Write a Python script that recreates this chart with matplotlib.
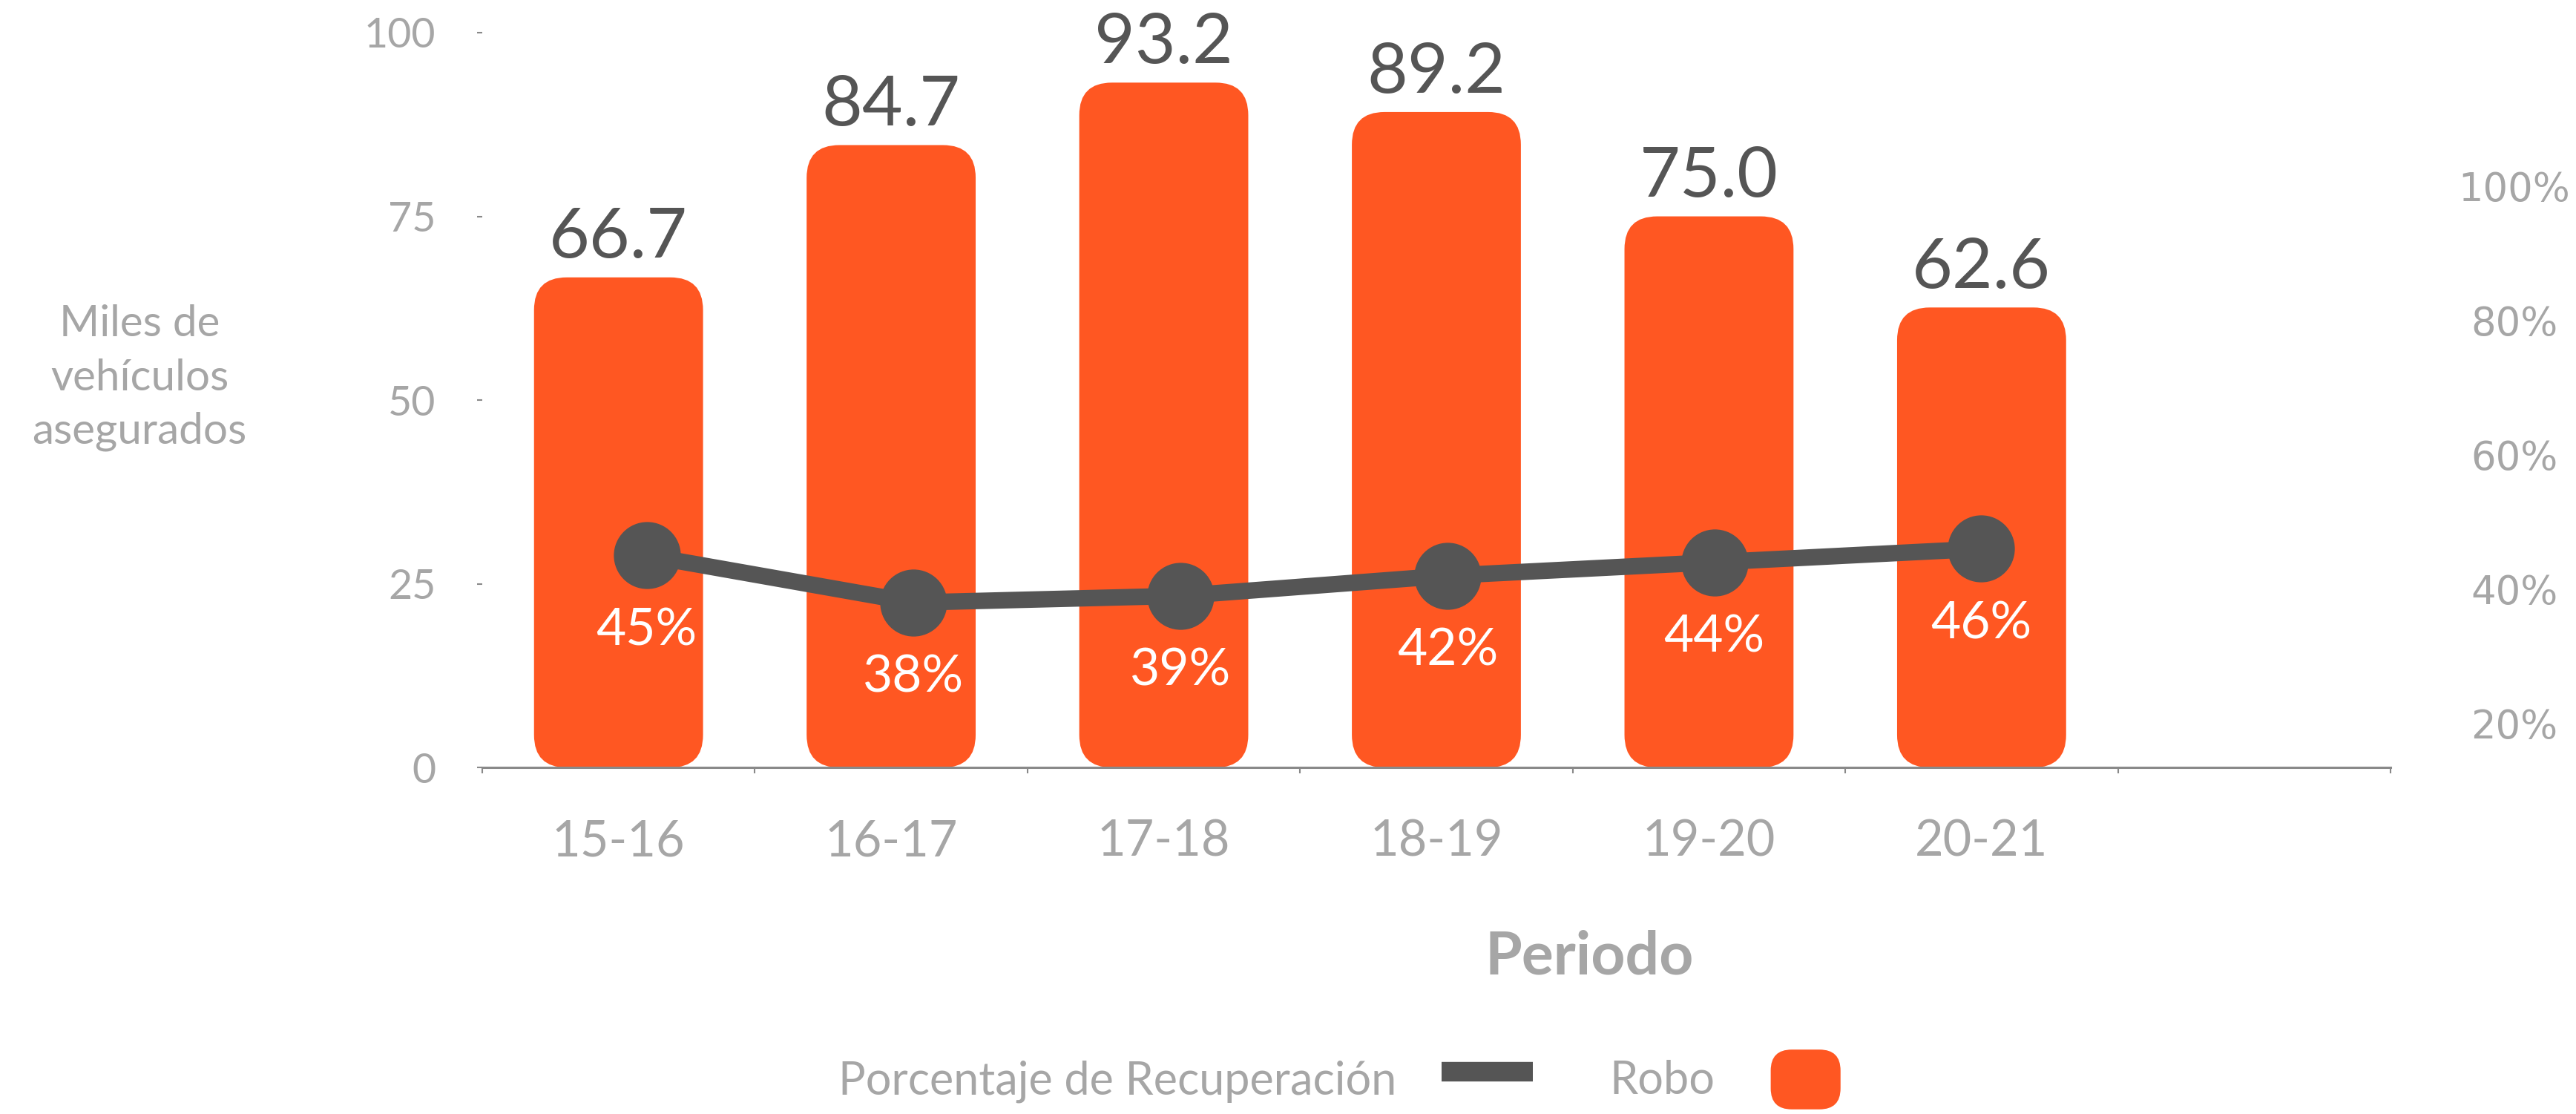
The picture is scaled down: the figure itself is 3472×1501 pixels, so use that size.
import numpy as np
import matplotlib.pyplot as plt
from matplotlib.patches import FancyBboxPatch, Patch
from matplotlib.lines import Line2D
from matplotlib.legend_handler import HandlerPatch

plt.rcParams['font.family'] = ['Lato', 'DejaVu Sans']

# Data
periodos = ['15-16', '16-17', '17-18', '18-19', '19-20', '20-21']
robo = [66.7, 84.7, 93.2, 89.2, 75.0, 62.6]            # miles de vehiculos
recuperacion = [45, 38, 39, 42, 44, 46]                 # %
ticks_izq = [0, 25, 50, 75, 100]
ticks_der = [20, 40, 60, 80, 100]

naranja = '#FF5722'
gris_linea = '#555555'
gris_texto = '#A6A6A6'
gris_eje = '#898989'

fig = plt.figure(figsize=(34.72, 15.01), dpi=100)
rect = [0.1872, 0.311, 0.7408, 0.6597]
ax = fig.add_axes(rect)

# Bars with rounded corners
x = np.arange(len(periodos))
bars = ax.bar(x, robo, width=0.62, color=naranja)
for b in bars:
    b.set_visible(False)
    ax.add_patch(FancyBboxPatch((b.get_x(), b.get_y()), b.get_width(), b.get_height(),
                                boxstyle='round,pad=0,rounding_size=0.12',
                                mutation_aspect=37, fc=naranja, ec='none'))

for xi, v in zip(x, robo):
    ax.annotate(f'{v:.1f}', (xi, v), xytext=(0, 19), textcoords='offset points',
                ha='center', va='baseline', fontsize=68, color='#555555')

ax.set_xlim(-0.5, 6.5)
ax.set_ylim(0, 100)
for s in ['top', 'right', 'left']:
    ax.spines[s].set_visible(False)
ax.spines['bottom'].set_color(gris_eje)
ax.spines['bottom'].set_linewidth(2.2)

# slot boundaries as major ticks, category labels on minor ticks
ax.set_xticks(np.arange(-0.5, 7, 1))
ax.set_xticklabels([])
ax.set_xticks(x, minor=True)
ax.set_xticklabels(periodos, minor=True)
ax.tick_params(axis='x', which='major', length=6, width=1.5, color=gris_eje)
ax.tick_params(axis='x', which='minor', length=0, pad=50, labelsize=48, labelcolor=gris_texto)

ax.set_yticks(ticks_izq)
ax.tick_params(axis='y', length=5, width=1.5, color=gris_eje, pad=40,
               labelsize=40, labelcolor=gris_texto)

ax.set_ylabel('Miles de\nvehículos\nasegurados', rotation=0, fontsize=42,
              color=gris_texto, linespacing=1.45, ha='center', va='center')
ax.yaxis.set_label_coords(-0.1796, 0.530)
ax.set_xlabel('Periodo', fontsize=58, fontweight='bold', color=gris_texto, va='center')
ax.xaxis.set_label_coords(0.58, -0.258)

# Recovery line on its own overlay axes
ax2 = fig.add_axes(rect, frameon=False)
ax2.patch.set_visible(False)
ax2.plot(x, recuperacion, color=gris_linea, lw=16, marker='o', ms=64,
         solid_capstyle='butt')
ax2.set_xlim(-0.616, 6.533)
ax2.set_ylim(13.45, 122.8)
ax2.xaxis.set_visible(False)
ax2.yaxis.tick_right()
ax2.set_yticks(ticks_der)
ax2.set_yticklabels([f'{t}%' for t in ticks_der], family='DejaVu Sans')
ax2.tick_params(axis='y', length=0, pad=120, labelsize=38, labelcolor=gris_texto)
for lbl in ax2.get_yticklabels():
    lbl.set_horizontalalignment('center')

for xi, p in zip(x, recuperacion):
    ax2.annotate(f'{p}%', (xi, p), xytext=(0, -73), textcoords='offset points',
                 ha='center', va='center', fontsize=50, color='white')


# Legend
def round_box(legend, orig_handle, xdescent, ydescent, width, height, fontsize):
    w = width * 0.77
    return FancyBboxPatch((-xdescent + (width - w) / 2, -ydescent), w, height,
                          boxstyle=f'round,pad=0,rounding_size={w * 0.3}')


handles = [Line2D([], [], color=gris_linea, lw=19, solid_capstyle='butt'),
           Patch(fc=naranja, ec='none')]
fig.legend(handles, ['Porcentaje de Recuperación', 'Robo'], loc='center',
           bbox_to_anchor=(0.522, 0.031), ncol=2, frameon=False, markerfirst=False,
           fontsize=44, labelcolor=gris_texto, handlelength=2.0, handleheight=1.65,
           handletextpad=1.0, columnspacing=1.7,
           handler_map={Patch: HandlerPatch(patch_func=round_box)})

fig.savefig('out.png', dpi=100)
